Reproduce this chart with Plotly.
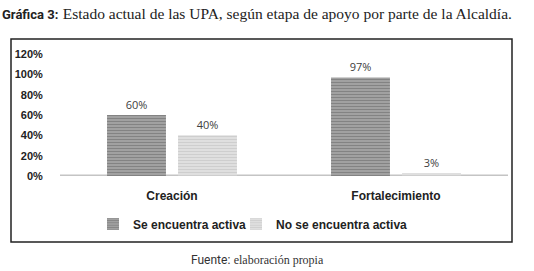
import plotly.graph_objects as go

categories = ["Creación", "Fortalecimiento"]
activa = [0.60, 0.97]
no_activa = [0.40, 0.03]
series_names = ["Se encuentra activa", "No se encuentra activa"]
y_ticks = [0, 0.2, 0.4, 0.6, 0.8, 1.0, 1.2]
y_tick_labels = ["0%", "20%", "40%", "60%", "80%", "100%", "120%"]

W, H = 534, 271

def px(x):
    return x / W

def py(y):
    return 1 - y / H

fig = go.Figure()
fig.add_bar(
    x=categories, y=activa, name="<b>" + series_names[0] + "</b>",
    marker=dict(color="#8a8a8a", line=dict(width=0),
                pattern=dict(shape="-", fgcolor="#606060", bgcolor="#a6a6a6", size=3, solidity=0.45)),
    text=[f"{v:.0%}" for v in activa], textposition="outside",
    textfont=dict(family="Open Sans", size=11, color="#404040"),
    cliponaxis=False, legend="legend",
)
fig.add_bar(
    x=categories, y=no_activa, name="<b>" + series_names[1] + "</b>",
    marker=dict(color="#d0d0d0", line=dict(width=0),
                pattern=dict(shape="-", fgcolor="#bababa", bgcolor="#e2e2e2", size=3, solidity=0.45)),
    text=[f"{v:.0%}" for v in no_activa], textposition="outside",
    textfont=dict(family="Open Sans", size=11, color="#404040"),
    cliponaxis=False, legend="legend2",
)

legend_common = dict(orientation="h", yanchor="middle", y=py(224), xanchor="left",
                     font=dict(family="Liberation Sans", size=12, color="#222"),
                     itemwidth=30, bgcolor="rgba(0,0,0,0)")

fig.update_layout(
    width=W, height=H,
    margin=dict(l=0, r=0, t=0, b=0, autoexpand=False),
    paper_bgcolor="white", plot_bgcolor="white",
    barmode="group", bargap=0.366, bargroupgap=0.17,
    showlegend=True,
    legend=dict(x=px(93), **legend_common),
    legend2=dict(x=px(236), **legend_common),
    xaxis=dict(domain=[px(60), px(508)], showgrid=False, showline=False, zeroline=False,
               automargin=False,
               tickvals=categories, ticktext=["<b>" + c + "</b>" for c in categories],
               ticks="outside", ticklen=9, tickcolor="rgba(0,0,0,0)",
               tickfont=dict(family="Liberation Sans", size=12, color="#222")),
    yaxis=dict(domain=[py(176), py(54)], range=[0, 1.2], tickvals=y_ticks,
               ticktext=["<b>" + t + "</b>" for t in y_tick_labels],
               showgrid=False, zeroline=False, showline=False, automargin=False,
               ticks="outside", ticklen=14, tickcolor="rgba(0,0,0,0)",
               tickfont=dict(family="Liberation Sans", size=11, color="#222")),
    font=dict(family="Liberation Sans"),
)

# baseline
fig.add_shape(type="line", xref="paper", yref="y", x0=px(60), x1=px(508), y0=0, y1=0,
              line=dict(color="#c4c4c4", width=3), layer="below")
# frame
fig.add_shape(type="rect", xref="paper", yref="paper", x0=px(11), x1=px(512), y0=py(242), y1=py(39),
              line=dict(color="#222", width=1.5))

# title
fig.add_annotation(xref="paper", yref="paper", x=0, y=py(13), xanchor="left", yanchor="middle",
                   showarrow=False,
                   text="<span style='font-family:Roboto;font-weight:bold;font-size:13px'>Gráfica 3:</span> "
                        "<span style='font-family:Liberation Serif'>Estado actual de las UPA, según etapa de apoyo por parte de la Alcaldía.</span>",
                   font=dict(size=15.5, color="#222"))
# footer
fig.add_annotation(xref="paper", yref="paper", x=px(257), y=py(260), xanchor="center", yanchor="middle",
                   showarrow=False,
                   text="<span style='font-family:Roboto'>Fuente:</span> "
                        "<span style='font-family:Liberation Serif'>elaboración propia</span>",
                   font=dict(size=12, color="#333"))

fig.write_html("out.html", config={"displayModeBar": False},
               post_script="document.body.style.margin='0';document.body.style.overflow='hidden';")
